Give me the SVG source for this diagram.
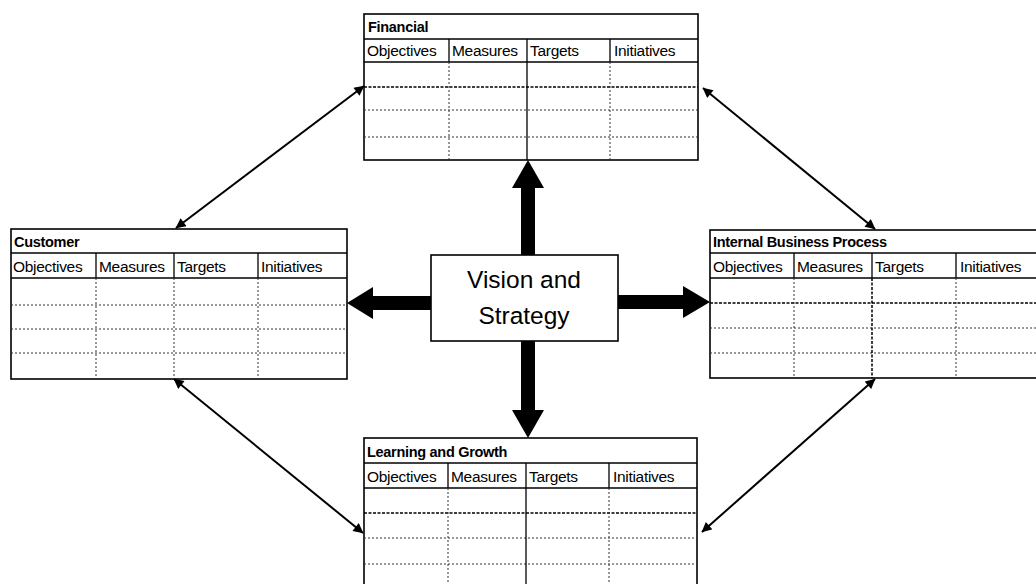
<svg xmlns="http://www.w3.org/2000/svg" width="1036" height="584" viewBox="0 0 1036 584">
<defs>
<marker id="ah" viewBox="0 0 10 10" refX="9.5" refY="5" markerWidth="5.5" markerHeight="5" orient="auto-start-reverse" markerUnits="strokeWidth">
<path d="M0,0 L10,5 L0,10 Z" fill="#000"/>
</marker>
<style>
.frame{fill:#fff;stroke:#000;stroke-width:1.6}
.solid{stroke:#000;stroke-width:1.3;fill:none}
.dot{stroke:#333;stroke-width:1;stroke-dasharray:2 2;fill:none}
.dotd{stroke:#000;stroke-width:1.5;stroke-dasharray:3 1.5;fill:none}
.title{font-family:"Liberation Sans",Arial,sans-serif;font-size:14.5px;font-weight:bold;fill:#000;letter-spacing:-0.3px}
.hd{font-family:"Liberation Sans",Arial,sans-serif;font-size:15.5px;fill:#000;letter-spacing:-0.3px}
.vs{font-family:"Liberation Sans",Arial,sans-serif;font-size:24.5px;fill:#000;text-anchor:middle}
.thin{stroke:#000;stroke-width:2;fill:none}
</style>
</defs>
<rect width="1036" height="584" fill="#fff"/>

<g id="financial">
<rect class="frame" x="364" y="14" width="334" height="146"/>
<line class="solid" x1="364" y1="39" x2="698" y2="39"/>
<line class="solid" x1="364" y1="62" x2="698" y2="62"/>
<line class="dotd" x1="364" y1="87" x2="698" y2="87"/>
<line class="dot" x1="364" y1="110" x2="698" y2="110"/>
<line class="dot" x1="364" y1="137" x2="698" y2="137"/>
<line class="solid" x1="449" y1="39" x2="449" y2="62"/>
<line class="solid" x1="527" y1="39" x2="527" y2="160"/>
<line class="solid" x1="610" y1="39" x2="610" y2="62"/>
<line class="dot" x1="449" y1="62" x2="449" y2="160"/>
<line class="dot" x1="610" y1="62" x2="610" y2="160"/>
<text class="title" x="368" y="32">Financial</text>
<text class="hd" x="367" y="56">Objectives</text>
<text class="hd" x="452" y="56">Measures</text>
<text class="hd" x="530" y="56">Targets</text>
<text class="hd" x="614" y="56">Initiatives</text>
</g>

<g id="customer">
<rect class="frame" x="11" y="229" width="336" height="150"/>
<line class="solid" x1="11" y1="253" x2="347" y2="253"/>
<line class="solid" x1="11" y1="278" x2="347" y2="278"/>
<line class="dot" x1="11" y1="305" x2="347" y2="305"/>
<line class="dot" x1="11" y1="329" x2="347" y2="329"/>
<line class="dot" x1="11" y1="353" x2="347" y2="353"/>
<line class="solid" x1="96" y1="253" x2="96" y2="278"/>
<line class="solid" x1="174" y1="253" x2="174" y2="278"/>
<line class="solid" x1="258" y1="253" x2="258" y2="278"/>
<line class="dot" x1="96" y1="278" x2="96" y2="379"/>
<line class="dot" x1="174" y1="278" x2="174" y2="379"/>
<line class="dot" x1="258" y1="278" x2="258" y2="379"/>
<text class="title" x="14" y="247">Customer</text>
<text class="hd" x="13" y="272">Objectives</text>
<text class="hd" x="99" y="272">Measures</text>
<text class="hd" x="177" y="272">Targets</text>
<text class="hd" x="261" y="272">Initiatives</text>
</g>

<g id="internal">
<rect class="frame" x="710" y="230" width="336" height="148"/>
<line class="solid" x1="710" y1="253" x2="1036" y2="253"/>
<line class="solid" x1="710" y1="278" x2="1036" y2="278"/>
<line class="dotd" x1="710" y1="303" x2="1036" y2="303"/>
<line class="dot" x1="710" y1="328" x2="1036" y2="328"/>
<line class="dot" x1="710" y1="353" x2="1036" y2="353"/>
<line class="solid" x1="794" y1="253" x2="794" y2="278"/>
<line class="solid" x1="872" y1="253" x2="872" y2="278"/>
<line class="solid" x1="956" y1="253" x2="956" y2="278"/>
<line class="dot" x1="794" y1="278" x2="794" y2="378"/>
<line class="dotd" x1="872" y1="278" x2="872" y2="378"/>
<line class="dot" x1="956" y1="278" x2="956" y2="378"/>
<text class="title" x="713" y="247">Internal Business Process</text>
<text class="hd" x="713" y="272">Objectives</text>
<text class="hd" x="797" y="272">Measures</text>
<text class="hd" x="875" y="272">Targets</text>
<text class="hd" x="960" y="272">Initiatives</text>
</g>

<g id="learning">
<rect class="frame" x="364" y="438" width="333" height="152"/>
<line class="solid" x1="364" y1="463" x2="697" y2="463"/>
<line class="solid" x1="364" y1="488" x2="697" y2="488"/>
<line class="dotd" x1="364" y1="513" x2="697" y2="513"/>
<line class="dot" x1="364" y1="538" x2="697" y2="538"/>
<line class="dot" x1="364" y1="564" x2="697" y2="564"/>
<line class="solid" x1="448" y1="463" x2="448" y2="488"/>
<line class="solid" x1="526" y1="463" x2="526" y2="590"/>
<line class="solid" x1="609" y1="463" x2="609" y2="488"/>
<line class="dot" x1="448" y1="488" x2="448" y2="590"/>
<line class="dot" x1="609" y1="488" x2="609" y2="590"/>
<text class="title" x="367" y="457">Learning and Growth</text>
<text class="hd" x="367" y="482">Objectives</text>
<text class="hd" x="451" y="482">Measures</text>
<text class="hd" x="529" y="482">Targets</text>
<text class="hd" x="613" y="482">Initiatives</text>
</g>

<g id="vision">
<rect class="frame" x="431" y="255" width="187" height="86"/>
<text class="vs" x="524" y="288">Vision and</text>
<text class="vs" x="524" y="324">Strategy</text>
</g>

<g id="connectors">
<polygon points="521,255 521,188 512,188 528,160 544,188 535,188 535,255" fill="#000"/>
<polygon points="521,341 521,410 512,410 528,438 544,410 535,410 535,341" fill="#000"/>
<polygon points="431,296 373,296 373,287 347,303 373,319 373,310 431,310" fill="#000"/>
<polygon points="618,295 683,295 683,286 710,302 683,318 683,309 618,309" fill="#000"/>
<line class="thin" x1="176" y1="228" x2="364" y2="86" marker-start="url(#ah)" marker-end="url(#ah)"/>
<line class="thin" x1="703" y1="88" x2="875" y2="229" marker-start="url(#ah)" marker-end="url(#ah)"/>
<line class="thin" x1="174" y1="379" x2="363" y2="533" marker-start="url(#ah)" marker-end="url(#ah)"/>
<line class="thin" x1="875" y1="379" x2="702" y2="532" marker-start="url(#ah)" marker-end="url(#ah)"/>
</g>
</svg>
